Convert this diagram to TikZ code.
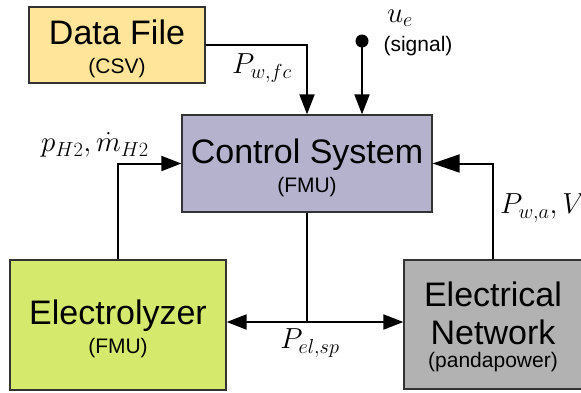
\documentclass[tikz,border=0pt]{standalone}
\usepackage{fix-cm}
\usepackage{amsmath,amssymb}
\usepackage{fontspec}
\setmainfont{Liberation Sans}
\usepackage{xcolor}
\usepackage{tikz}
\usetikzlibrary{arrows.meta,positioning}

\definecolor{filecol}{RGB}{255,229,153}
\definecolor{ctrlcol}{RGB}{180,178,204}
\definecolor{elcol}{RGB}{213,233,108}
\definecolor{netcol}{RGB}{178,178,178}

\newcommand{\blocktxt}{\fontsize{34}{38}\selectfont}
\newcommand{\subtxt}{\fontsize{21}{24}\selectfont}
\newcommand{\topgap}[1]{\rule{0pt}{#1}}

\begin{document}
\begin{tikzpicture}[x=1pt,y=-1pt,
  block/.style={draw=black!80,line width=1.3pt,align=center,inner sep=0pt,font=\blocktxt},
  flow/.style={line width=2pt,-{Triangle[length=20pt,width=15pt]}},
  bigflow/.style={line width=2pt,-{Triangle[length=27pt,width=18pt]}},
  both/.style={line width=2pt,{Triangle[length=20pt,width=15pt]}-{Triangle[length=20pt,width=15pt]}},
  lbl/.style={font=\fontsize{29}{32}\selectfont,inner sep=0pt},
  dot/.style={circle,fill=black,inner sep=0pt,minimum size=13pt}]

    \useasboundingbox (0,0) rectangle (581,392);
    \clip (0,0) rectangle (581,392);

    % The blocks
	\node [block,fill=filecol,minimum width=176pt,minimum height=76pt] at (117,45) (file) {\topgap{33pt}Data File\\[-9pt]{\subtxt (CSV)}};
	\node [block,fill=ctrlcol,minimum width=250pt,minimum height=97pt] at (307,163.5) (ctrl) {\topgap{33pt}Control System\\[-9pt]{\subtxt (FMU)}};
	\node [block,fill=elcol,minimum width=216pt,minimum height=130pt] at (118,325) (elec) {\topgap{33pt}Electrolyzer\\[-9pt]{\subtxt (FMU)}};
	\node [block,fill=netcol,minimum width=178pt,minimum height=129pt] at (493,324.5) (net) {\topgap{30pt}Electrical\\Network\\[-15pt]{\subtxt (pandapower)}};

	\node [dot] at (362,41) (sig) {};
	\coordinate (junc) at (307,322);

	% Signal labels
	\node [lbl] at (262,68) (pwfc) {$P_{w,fc}$};
	\node [lbl] at (400,18) (ue) {$u_e$};
	\node [font=\subtxt] at (418,46) (sigtxt) {(signal)};
	\node [lbl] at (95,145) (ph2) {$p_{H2},\dot{m}_{H2}$};
	\node [lbl,anchor=west] at (500,208) (pwa) {$P_{w,a},V$};
	\node [lbl] at (310,343) (pel) {$P_{el,sp}$};

	% Connections
	\draw [flow] (file.east) -| (ctrl.north);
	\draw [flow] (sig.center) -- (sig.center |- ctrl.north);
	\draw [flow] (elec.north) |- (ctrl.west);
	\draw [bigflow] (net.north) |- (ctrl.east);
	\draw [line width=2pt] (ctrl.south) -- (junc);
	\draw [both] (junc -| elec.east) -- (junc -| net.west);

\end{tikzpicture}
\end{document}
